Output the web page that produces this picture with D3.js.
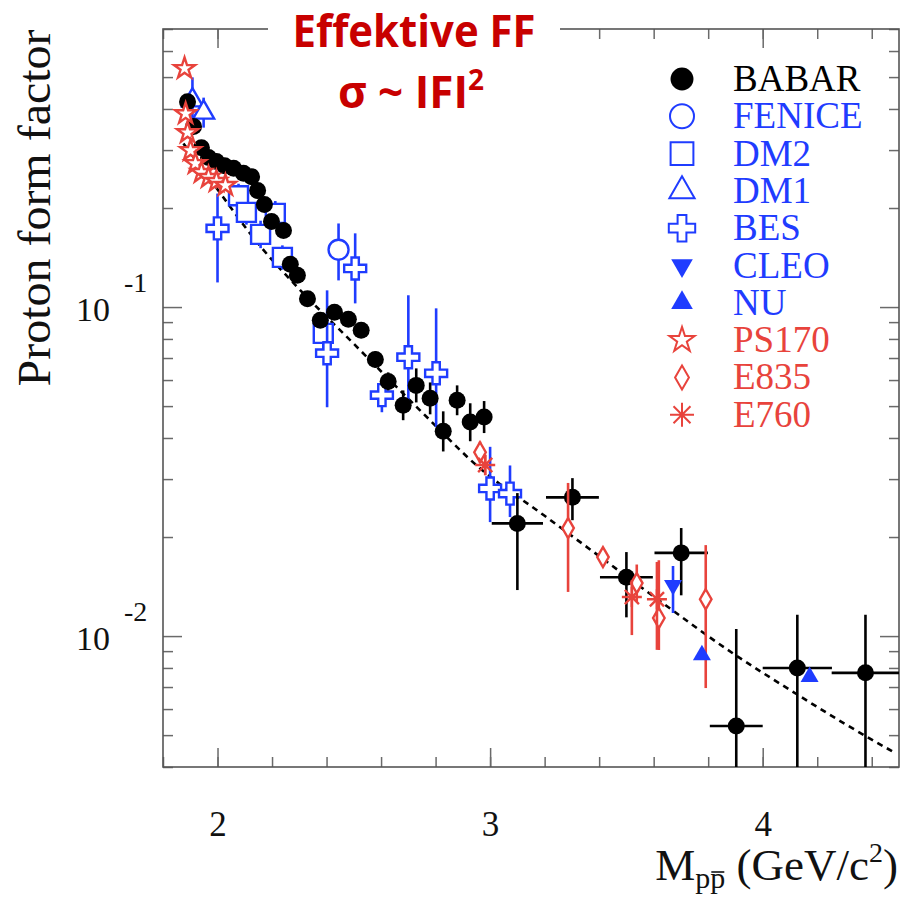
<!DOCTYPE html>
<html>
<head>
<meta charset="utf-8">
<script src="https://cdn.jsdelivr.net/npm/d3@7"></script>
<style>
body { margin: 0; background: #fff; }
</style>
</head>
<body>
<script>
// rows: [mass, form factor, low, high, half bin width]
var babar = [
	[1.890, 0.421, 0.404, 0.438, 0], [1.912, 0.354, 0.340, 0.368, 0],
	[1.941, 0.305, 0.293, 0.317, 0], [1.967, 0.285, 0.274, 0.296, 0],
	[1.996, 0.277, 0.266, 0.288, 0], [2.026, 0.269, 0.258, 0.280, 0],
	[2.059, 0.264, 0.253, 0.275, 0], [2.095, 0.255, 0.245, 0.265, 0],
	[2.125, 0.249, 0.239, 0.259, 0], [2.147, 0.226, 0.217, 0.235, 0],
	[2.172, 0.205, 0.197, 0.213, 0], [2.198, 0.182, 0.175, 0.189, 0],
	[2.242, 0.171, 0.164, 0.178, 0], [2.267, 0.135, 0.129, 0.141, 0],
	[2.293, 0.125, 0.119, 0.131, 0], [2.330, 0.106, 0.101, 0.111, 0],
	[2.377, 0.0912, 0.0868, 0.0958, 0], [2.429, 0.0964, 0.0916, 0.1014, 0],
	[2.480, 0.0918, 0.0872, 0.0966, 0], [2.527, 0.0850, 0.0805, 0.0897, 0],
	[2.579, 0.0693, 0.0655, 0.0733, 0], [2.626, 0.0594, 0.0558, 0.0633, 0],
	[2.681, 0.0503, 0.0453, 0.0558, 0], [2.729, 0.0578, 0.0513, 0.0651, 0],
	[2.780, 0.0528, 0.0472, 0.0590, 0], [2.828, 0.0419, 0.0364, 0.0482, 0],
	[2.879, 0.0521, 0.0469, 0.0578, 0], [2.927, 0.0447, 0.0391, 0.0510, 0],
	[2.978, 0.0463, 0.0414, 0.0518, 0],
	[3.100, 0.0220, 0.0138, 0.0272, 0.094], [3.302, 0.0264, 0.0225, 0.0302, 0.097],
	[3.500, 0.0151, 0.0114, 0.0180, 0.097], [3.701, 0.0179, 0.0133, 0.0213, 0.098],
	[3.903, 0.00533, 0.0010, 0.0105, 0.097], [4.127, 0.0080, 0.0010, 0.0116, 0.127],
	[4.377, 0.00773, 0.0010, 0.0116, 0.124]
];
var fenice = [[2.444, 0.1494, 0.1205, 0.1795, 0]];
var dm2 = [
	[2.077, 0.218, 0.200, 0.237, 0], [2.106, 0.194, 0.178, 0.211, 0],
	[2.158, 0.1663, 0.151, 0.183, 0], [2.212, 0.1926, 0.177, 0.210, 0],
	[2.238, 0.1416, 0.130, 0.154, 0], [2.388, 0.0832, 0.0734, 0.0944, 0]
];
var dm1 = [[1.908, 0.425, 0.362, 0.499, 0], [1.949, 0.390, 0.351, 0.433, 0]];
var bes = [
	[2.000, 0.1734, 0.1188, 0.2213, 0], [2.402, 0.0724, 0.0496, 0.1124, 0],
	[2.505, 0.131, 0.1026, 0.1675, 0], [2.603, 0.0540, 0.0479, 0.0578, 0],
	[2.700, 0.0704, 0.0503, 0.1086, 0], [2.802, 0.0629, 0.0432, 0.0991, 0],
	[3.000, 0.0281, 0.0222, 0.0376, 0], [3.073, 0.0271, 0.0230, 0.0330, 0]
];
var cleo = [[3.671, 0.01428, 0.01175, 0.01633, 0]];
var nu = [[3.777, 0.00875, 0.00875, 0.00875, 0], [4.172, 0.00752, 0.00752, 0.00752, 0]];
var ps170 = [
	[1.879, 0.531, 0.531, 0.531, 0], [1.883, 0.387, 0.387, 0.387, 0],
	[1.890, 0.339, 0.339, 0.339, 0], [1.901, 0.299, 0.299, 0.299, 0],
	[1.919, 0.273, 0.273, 0.273, 0], [1.941, 0.2565, 0.2565, 0.2565, 0],
	[1.967, 0.2477, 0.2477, 0.2477, 0], [1.996, 0.241, 0.241, 0.241, 0],
	[2.029, 0.2343, 0.2343, 0.2343, 0]
];
var e835 = [
	[2.963, 0.0362, 0.0336, 0.0390, 0], [3.286, 0.0213, 0.01362, 0.0292, 0],
	[3.414, 0.01738, 0.0164, 0.0184, 0], [3.538, 0.01449, 0.0127, 0.0165, 0],
	[3.619, 0.01135, 0.00907, 0.0170, 0], [3.791, 0.01294, 0.00695, 0.0189, 0]
];
var e760 = [
	[2.982, 0.0331, 0.0308, 0.0356, 0], [3.520, 0.01314, 0.01007, 0.0148, 0],
	[3.612, 0.01294, 0.00908, 0.0168, 0]
];

// dashed fit curve
var fitM = [1.875, 1.975, 2.16, 2.28, 2.5, 2.75, 2.96, 3.2, 3.4, 3.6, 3.89, 4.1, 4.3, 4.48];
var fitF = [0.314, 0.243, 0.152, 0.118, 0.0773, 0.0479, 0.0325, 0.0232, 0.0175, 0.0132, 0.00887, 0.00686, 0.00542, 0.00444];

var xMajor = [2, 3, 4];
var yMajor = [0.1, 0.01];

var blue = "#1f3cff", red = "#e8433c";

var W = 901, H = 900;
var plot = { left: 163, top: 29, right: 899, bottom: 767 };

var x = d3.scaleLinear().domain([1.8, 4.5]).range([plot.left, plot.right]);
var y = d3.scaleLog().domain([0.004, 0.7]).range([plot.bottom, plot.top]);

var svg = d3.select("body").append("svg")
	.attr("width", W)
	.attr("height", H)
	.style("font-family", "'Liberation Serif', 'Times New Roman', serif");

svg.append("clipPath").attr("id", "clip")
	.append("rect")
	.attr("x", plot.left).attr("y", plot.top)
	.attr("width", plot.right - plot.left)
	.attr("height", plot.bottom - plot.top);

// ticks
var xMinor = d3.range(9, 23).map(function (i) { return i / 5; });
var yMinor = y.ticks().filter(function (v) { return yMajor.indexOf(+v.toPrecision(3)) < 0; });

function addAxis(axis, transform) {
	var g = svg.append("g").attr("transform", transform).call(axis);
	g.select(".domain").remove();
	g.selectAll(".tick line").attr("stroke", "#6a6a6a").attr("stroke-width", 1.5);
	return g;
}

addAxis(d3.axisBottom(x).tickValues(xMinor).tickSize(-10).tickFormat(""), "translate(0," + plot.bottom + ")");
addAxis(d3.axisTop(x).tickValues(xMinor).tickSize(-10).tickFormat(""), "translate(0," + plot.top + ")");
addAxis(d3.axisTop(x).tickValues(xMajor).tickSize(-19).tickFormat(""), "translate(0," + plot.top + ")");
var xLab = addAxis(d3.axisBottom(x).tickValues(xMajor).tickSize(-19).tickPadding(44).tickFormat(d3.format("d")),
	"translate(0," + plot.bottom + ")");
xLab.selectAll("text")
	.attr("font-family", "'Liberation Serif', serif")
	.attr("font-size", 35)
	.attr("fill", "#111");

addAxis(d3.axisLeft(y).tickValues(yMinor).tickSize(-10).tickFormat(""), "translate(" + plot.left + ",0)");
addAxis(d3.axisRight(y).tickValues(yMinor).tickSize(-10).tickFormat(""), "translate(" + plot.right + ",0)");
addAxis(d3.axisLeft(y).tickValues(yMajor).tickSize(-19).tickFormat(""), "translate(" + plot.left + ",0)");
addAxis(d3.axisRight(y).tickValues(yMajor).tickSize(-19).tickFormat(""), "translate(" + plot.right + ",0)");

// y labels 10^-n
yMajor.forEach(function (v) {
	svg.append("text")
		.text("10")
		.attr("x", 110).attr("y", y(v) + 14)
		.attr("text-anchor", "end")
		.attr("font-size", 34).attr("fill", "#111");
	svg.append("text")
		.text(String(Math.round(Math.log10(v))))
		.attr("x", 124).attr("y", y(v) - 15)
		.attr("font-size", 28).attr("fill", "#111");
});

// frame
svg.append("rect")
	.attr("x", plot.left).attr("y", plot.top)
	.attr("width", plot.right - plot.left)
	.attr("height", plot.bottom - plot.top)
	.attr("fill", "none")
	.attr("stroke", "#555")
	.attr("stroke-width", 1.6);

var plotG = svg.append("g").attr("clip-path", "url(#clip)");

// fit
var fit = fitM.map(function (m, i) { return [m, fitF[i]]; });
plotG.append("path")
	.datum(fit)
	.attr("d", d3.line()
		.x(function (d) { return x(d[0]); })
		.y(function (d) { return y(d[1]); })
		.curve(d3.curveMonotoneX))
	.attr("fill", "none")
	.attr("stroke", "#000")
	.attr("stroke-width", 2.6)
	.attr("stroke-dasharray", "6,5");

function asterisk(r) {
	var p = d3.path();
	[0, 45, 90, 135].forEach(function (a) {
		var c = Math.cos(a * Math.PI / 180) * r, s = Math.sin(a * Math.PI / 180) * r;
		p.moveTo(-c, -s);
		p.lineTo(c, s);
	});
	return p.toString();
}

// size: roughly the marker width in px
function markerPath(shape, size) {
	switch (shape) {
		case "circle": return d3.symbol(d3.symbolCircle, Math.PI * size * size / 4)();
		case "square": return d3.symbol(d3.symbolSquare, size * size)();
		case "triangle":
		case "triangleDown": return d3.symbol(d3.symbolTriangle, size * size * Math.sqrt(3) / 4)();
		case "cross": return d3.symbol(d3.symbolCross, 5 * size * size / 9)();
		case "star": return d3.symbol(d3.symbolStar, size * size / 4 / 0.8908130915292852)();
		case "diamond": return d3.symbol(d3.symbolDiamond, Math.pow(size / 2, 2) * 2 * Math.tan(Math.PI / 6))();
		case "asterisk": return asterisk(size / 2);
	}
}

var series = [
	{ name: "BABAR", data: babar, shape: "circle", size: 17, color: "#000", fill: true, legend: 0 },
	{ name: "FENICE", data: fenice, shape: "circle", size: 20, color: blue, fill: false, legend: 1 },
	{ name: "DM2", data: dm2, shape: "square", size: 19, color: blue, fill: false, legend: 2 },
	{ name: "DM1", data: dm1, shape: "triangle", size: 21, color: blue, fill: false, legend: 3 },
	{ name: "BES", data: bes, shape: "cross", size: 22, color: blue, fill: false, legend: 4 },
	{ name: "CLEO", data: cleo, shape: "triangleDown", size: 18, color: blue, fill: true, legend: 5 },
	{ name: "NU", data: nu, shape: "triangle", size: 18, color: blue, fill: true, legend: 6 },
	{ name: "PS170", data: ps170, shape: "star", size: 22, color: red, fill: false, legend: 7 },
	{ name: "E835", data: e835, shape: "diamond", size: 20, color: red, fill: false, legend: 8 },
	{ name: "E760", data: e760, shape: "asterisk", size: 20, color: red, fill: false, legend: 9 }
];

// drawing order in the plot
var drawOrder = ["DM2", "BES", "FENICE", "DM1", "BABAR", "PS170", "E835", "E760", "CLEO", "NU"];

drawOrder.forEach(function (name) {
	var s = series.filter(function (d) { return d.name === name; })[0];
	var g = plotG.append("g").attr("class", "series");

	g.selectAll("line.ey")
		.data(s.data.filter(function (d) { return d[3] > d[2]; }))
		.enter().append("line")
		.attr("class", "ey")
		.attr("x1", function (d) { return x(d[0]); })
		.attr("x2", function (d) { return x(d[0]); })
		.attr("y1", function (d) { return y(d[2]); })
		.attr("y2", function (d) { return y(d[3]); })
		.attr("stroke", s.color)
		.attr("stroke-width", 2.6);

	g.selectAll("line.ex")
		.data(s.data.filter(function (d) { return d[4] > 0; }))
		.enter().append("line")
		.attr("class", "ex")
		.attr("x1", function (d) { return x(d[0] - d[4]); })
		.attr("x2", function (d) { return x(d[0] + d[4]); })
		.attr("y1", function (d) { return y(d[1]); })
		.attr("y2", function (d) { return y(d[1]); })
		.attr("stroke", s.color)
		.attr("stroke-width", 2.6);

	g.selectAll("path.mark")
		.data(s.data)
		.enter().append("path")
		.attr("class", "mark")
		.attr("d", markerPath(s.shape, s.size))
		.attr("transform", function (d) {
			return "translate(" + x(d[0]) + "," + y(d[1]) + ")" + (s.shape === "triangleDown" ? " rotate(180)" : "");
		})
		.attr("fill", s.fill ? s.color : (s.shape === "asterisk" ? "none" : "#fff"))
		.attr("stroke", s.color)
		.attr("stroke-width", s.fill ? 0 : 2.4);
});

// legend
var legend = svg.append("g").attr("transform", "translate(682,79)");
var row = legend.selectAll("g.row")
	.data(series)
	.enter().append("g")
	.attr("class", "row")
	.attr("transform", function (d) { return "translate(0," + (d.legend * 37.3) + ")"; });

row.append("path")
	.attr("d", function (d) { return markerPath(d.shape, d.size * (d.name === "BABAR" ? 1.35 : 1.2)); })
	.attr("transform", function (d) { return d.shape === "triangleDown" ? "rotate(180)" : null; })
	.attr("fill", function (d) { return d.fill ? d.color : "none"; })
	.attr("stroke", function (d) { return d.color; })
	.attr("stroke-width", function (d) { return d.fill ? 0 : 2; });

row.append("text")
	.text(function (d) { return d.name; })
	.attr("x", 51)
	.attr("y", 12)
	.attr("font-size", 37)
	.attr("fill", function (d) { return d.color; });

// axis titles
svg.append("text")
	.text("Proton form factor")
	.attr("transform", "translate(50,208) rotate(-90)")
	.attr("text-anchor", "middle")
	.attr("font-size", 46)
	.attr("textLength", 357)
	.attr("lengthAdjust", "spacingAndGlyphs")
	.attr("fill", "#111");

var xt = svg.append("text")
	.attr("x", 898).attr("y", 880)
	.attr("text-anchor", "end")
	.attr("font-size", 45)
	.attr("fill", "#111");
xt.append("tspan").text("M");
xt.append("tspan").text("pp").attr("font-size", 30).attr("dy", 8);
xt.append("tspan").text(" (GeV/c").attr("dy", -8);
xt.append("tspan").text("2").attr("font-size", 28).attr("dy", -18);
xt.append("tspan").text(")").attr("dy", 18);
var pbox = xt.node().getExtentOfChar(2);
svg.append("line")
	.attr("x1", pbox.x + 1).attr("x2", pbox.x + pbox.width - 1)
	.attr("y1", 872).attr("y2", 872)
	.attr("stroke", "#111").attr("stroke-width", 1.6);

// overlay title
svg.append("rect")
	.attr("x", 268).attr("y", 0)
	.attr("width", 292).attr("height", 56)
	.attr("fill", "#fff");

svg.append("text")
	.text("Effektive FF")
	.attr("x", 414).attr("y", 47)
	.attr("text-anchor", "middle")
	.attr("font-family", "'Open Sans', sans-serif")
	.attr("font-weight", "bold")
	.attr("font-size", 44)
	.attr("textLength", 243)
	.attr("lengthAdjust", "spacingAndGlyphs")
	.attr("fill", "#c80000");

var t2 = svg.append("text")
	.attr("x", 411).attr("y", 108)
	.attr("text-anchor", "middle")
	.attr("font-family", "'Open Sans', sans-serif")
	.attr("font-weight", "bold")
	.attr("font-size", 44)
	.attr("fill", "#c80000");
t2.append("tspan").text("\u03c3 ~ IFI");
t2.append("tspan").text("2").attr("font-size", 28).attr("dy", -18);
</script>
</body>
</html>
